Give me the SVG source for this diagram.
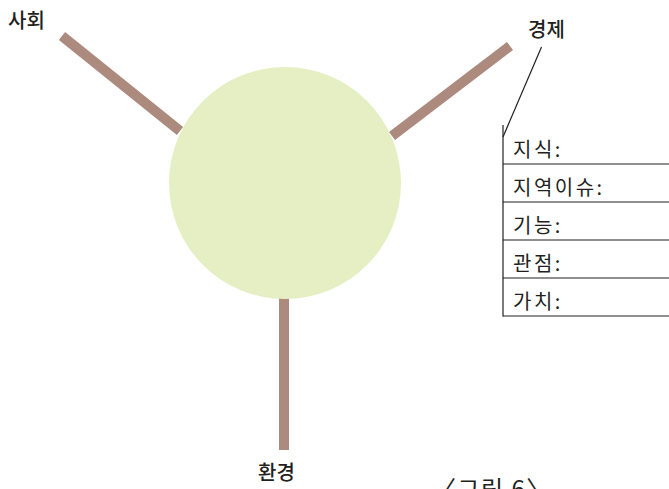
<svg xmlns="http://www.w3.org/2000/svg" width="669" height="489" viewBox="0 0 669 489">
<style>
.t{font-family:"Noto Sans CJK KR","Noto Sans",sans-serif;fill:#231f20}
.lab{font-size:20px;font-weight:500}
.row{font-size:20px;letter-spacing:2.5px}
.spoke{stroke:#ad8a7e;stroke-width:10;fill:none}
.thin{stroke:#231f20;stroke-width:1.2;fill:none}
</style>
<rect width="669" height="489" fill="#fff"/>
<g id="connectors">
<line class="spoke" x1="62" y1="36" x2="180" y2="131"/>
<line class="spoke" x1="510" y1="46" x2="392" y2="136"/>
<line class="spoke" x1="284" y1="295" x2="284" y2="450"/>
<line class="thin" x1="541.5" y1="47" x2="503" y2="137"/>
</g>
<g id="center"><circle cx="285" cy="183" r="116" fill="#e6efc3"/></g>
<g id="society"><text class="t lab" x="8" y="28">사회</text></g>
<g id="economy"><text class="t lab" x="528" y="37">경제</text></g>
<g id="environment"><text class="t lab" x="258" y="480">환경</text></g>
<g id="table">
<line class="thin" x1="503" y1="125" x2="503" y2="316.5"/>
<line class="thin" x1="503" y1="164" x2="669" y2="164"/>
<line class="thin" x1="503" y1="202" x2="669" y2="202"/>
<line class="thin" x1="503" y1="240" x2="669" y2="240"/>
<line class="thin" x1="503" y1="278" x2="669" y2="278"/>
<line class="thin" x1="503" y1="316" x2="669" y2="316"/>
<text class="t row" x="513" y="157">지식:</text>
<text class="t row" x="513" y="195">지역이슈:</text>
<text class="t row" x="513" y="233">기능:</text>
<text class="t row" x="513" y="271">관점:</text>
<text class="t row" x="513" y="309">가치:</text>
</g>
<g id="caption"><text class="t" x="432" y="498" font-size="24" letter-spacing="1.5">〈그림 6〉</text></g>
</svg>
